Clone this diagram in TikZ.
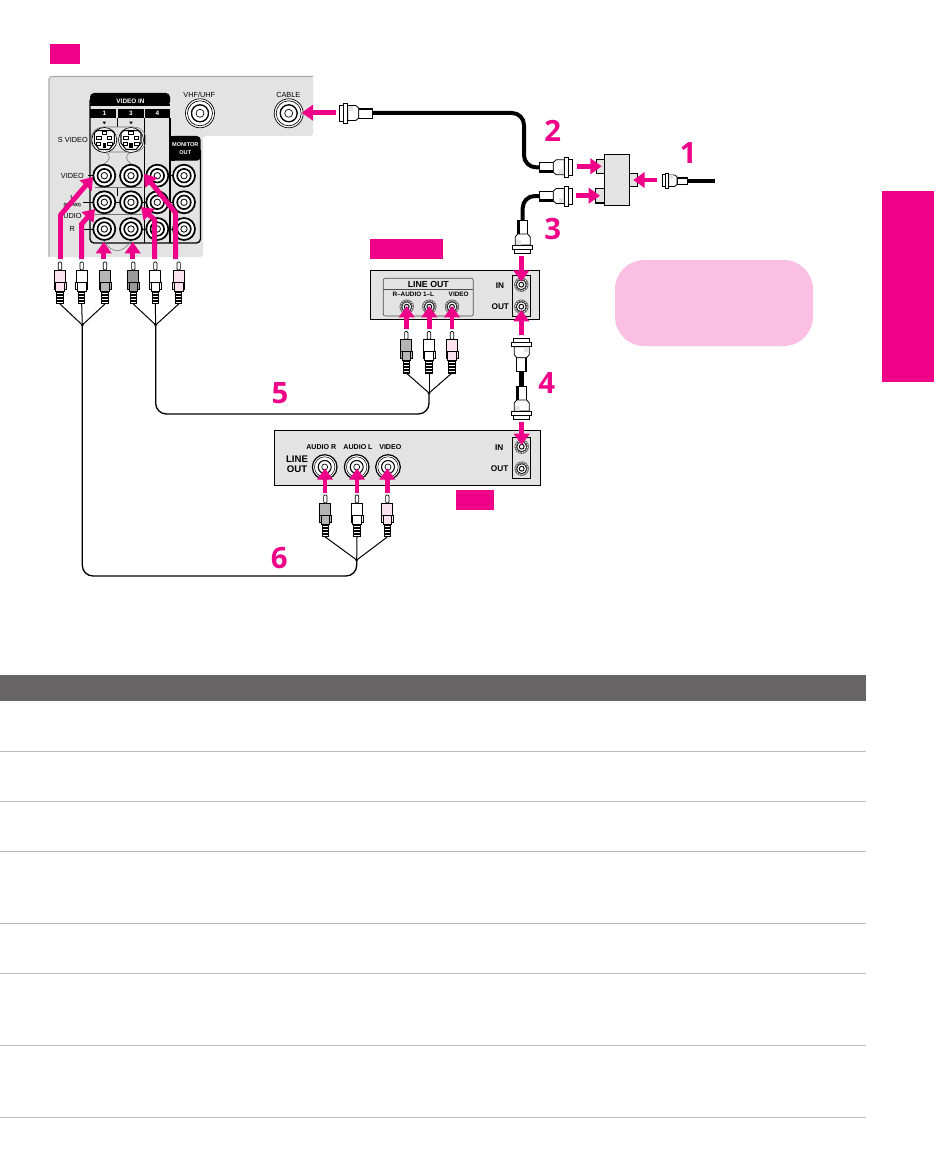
\documentclass[tikz,border=0pt]{standalone}
\usepackage{fontspec}
\setmainfont{Liberation Sans}
\newfontfamily\numfont{Open Sans}
\usetikzlibrary{arrows.meta,shapes.geometric}
\definecolor{mg}{HTML}{EE0088}
\definecolor{soft}{HTML}{FABFE2}
\definecolor{panel}{HTML}{E3E3E3}
\definecolor{band}{HTML}{666465}
\definecolor{rule}{HTML}{BBBBBB}
\definecolor{edge}{HTML}{AAAAAA}
\definecolor{plugpink}{HTML}{FCE1EE}
\definecolor{pluggrey}{HTML}{B5B5B5}
\definecolor{plugdark}{HTML}{999999}
\tikzset{
 x=0.75pt,y=-0.75pt,
 flag/.style={fill=mg,draw=none},
 rulerow/.style={draw=rule,line width=0.6pt},
 boxline/.style={draw=black,line width=0.8pt,fill=panel},
 fatarrow/.style={draw=mg,line width=3.7pt,-{Triangle[length=8.5pt,width=11.5pt]}},
 digit/.style={text=mg,font=\numfont\fontsize{22}{24}\selectfont\bfseries,inner sep=0pt},
 lab/.style={font=\fontsize{4.8}{5.8}\selectfont\bfseries,inner sep=0pt,align=center},
 labw/.style={lab,text=white},
 labm/.style={font=\fontsize{5.5}{6.5}\selectfont,inner sep=0pt,align=center},
 labb/.style={font=\fontsize{5.3}{6.5}\selectfont\bfseries,inner sep=0pt,align=center},
 thick wire/.style={draw=black,line width=3pt,rounded corners=9pt},
 thin wire/.style={draw=black,line width=1pt,rounded corners=8pt},
 fork/.style={draw=black,line width=0.75pt},
 thinring/.style={draw=black!55,line width=0.4pt},
 pics/rcaplug/.style={code={
   \draw[line width=0.5pt,fill=white,rounded corners=0.8pt] (-1.7,0) -- (-1.7,8) -- (1.7,8) -- (1.7,0) -- cycle;
   \draw[line width=0.6pt,fill=#1] (-5.5,8) rectangle (5.5,20);
   \draw[line width=0.6pt,fill=#1] (-6,20) -- (-4.3,20) -- (-4.3,27) -- (-6,27) -- cycle;
   \draw[line width=0.6pt,fill=#1] (6,20) -- (4.3,20) -- (4.3,27) -- (6,27) -- cycle;
   \draw[line width=0.6pt,fill=#1] (-4.3,20) rectangle (4.3,29);
   \fill[black] (-3.6,29) rectangle (3.6,42);
   \foreach \q in {30.5,33.5,36.5,39.5} \fill[white] (-2.6,\q) rectangle (2.6,\q+1.3);
 }},
 pics/coaxplug/.style={code={
   \draw[line width=0.6pt,fill=white] (0,-5) rectangle (14,5);
   \fill[black] (0,2.8) rectangle (14,5);
   \draw[line width=0.6pt,fill=white] (14,-5) -- (17,-7.5) -- (25,-7.5) -- (25,7.5) -- (17,7.5) -- (14,5) -- cycle;
   \fill[panel] (20,2) rectangle (24.6,7.1);
   \draw[line width=0.7pt,fill=white] (25,-10) rectangle (29,10);
   \draw[line width=0.7pt,fill=white] (29,-8) rectangle (33,8);
 }},
 pics/rcajack/.style={code={
   \draw[line width=1.3pt,fill=white] (0,0) circle (11);
   \draw[line width=1.2pt,fill=white] (0,0) circle (6.8);
   \draw[line width=0.6pt,fill=white] (0,0) circle (3.2);
 }},
 pics/widejack/.style={code={
   \draw[line width=0.9pt,fill=white] (0,0) circle (12.3);
   \draw[line width=0.4pt] (0,0) circle (10.2);
   \draw[line width=0.8pt,fill=white] (0,0) circle (6.5);
   \draw[line width=0.5pt] (0,0) circle (3);
 }},
 pics/bigjack/.style={code={
   \draw[line width=0.5pt,fill=white] (0,0) circle (14.5);
   \draw[line width=0.5pt] (0,0) circle (12.5);
   \draw[line width=1pt,fill=white] (0,0) circle (8.5);
   \draw[line width=0.5pt] (0,0) circle (4);
 }},
 pics/hexjack/.style={code={
   \fill[black!60] (0,0) circle (7.2);
   \draw[white,line width=0.5pt,dash pattern=on 1pt off 1pt] (0,0) circle (6);
   \draw[line width=0.4pt,fill=white] (0,0) circle (4.8);
   \draw[line width=0.7pt,fill=white] (0,0) circle (2.4);
 }},
 pics/svideo/.style={code={
   \draw[line width=0.5pt,fill=white] (0,0) circle (12.5);
   \draw[line width=0.8pt,fill=white] (-10,-7) -- (-7,-9.5) -- (7,-9.5) -- (10,-7) -- (10,3) -- (5,9.5) -- (-5,9.5) -- (-10,3) -- cycle;
   \foreach \a/\b in {-7.5/-4,3/-4,-8/2,3.5/2,-2.2/-8.5}
     \draw[line width=0.6pt,fill=white] (\a,\b) rectangle (\a+4.4,\b+3.2);
   \fill[black] (-1.6,3) rectangle (1.6,8.5);
 }},
}
\begin{document}
\begin{tikzpicture}
\useasboundingbox (0,0) rectangle (934,1152);
% table band and rules
\fill[band] (0,675) rectangle (866,701);
\foreach \ry in {751,801,851,923,973,1045,1117} \draw[rulerow] (0,\ry) -- (866,\ry);
% side tab and note
\fill[mg] (882,191) rectangle (934,382);
\fill[soft,rounded corners=22pt] (615,260) rectangle (813,346);
% flags
\fill[flag] (50,44) rectangle (80,64);
\fill[flag] (370,239) rectangle (443,259);
\fill[flag] (456,490) rectangle (494,510);
% TV panel
\fill[panel,rounded corners=2pt] (49,76.5) -- (313,76.5) -- (313,136) -- (203,136) -- (203,257) -- (49,257) -- cycle;
\draw[edge,line width=0.8pt,rounded corners=2pt] (49,257) -- (49,76.5) -- (313,76.5);
% frames
\draw[black,line width=1pt,rounded corners=3pt] (90,100) -- (90,243) -- (200.5,243) -- (200.5,150);
\draw[black,line width=1pt] (144.5,118) -- (144.5,243);
\draw[black,line width=1pt] (170,118) -- (170,243);
\draw[black,line width=0.7pt] (117,118) -- (117,127);
\draw[black,line width=0.7pt] (117,188) -- (117,196);
\fill[black,rounded corners=3pt] (90,93) rectangle (170,106);
\fill[black] (90,104) rectangle (170,106.5);
\fill[black] (90,109) rectangle (116.3,118);
\fill[black] (117.7,109) rectangle (143.8,118);
\fill[black] (145.2,109) rectangle (170,118);
\fill[black,rounded corners=3pt] (170,136) -- (200.7,136) -- (200.7,160.7) -- (170,160.7) -- cycle;
\fill[black] (170,136) rectangle (175,160.7);
\node[labw] (tvin) at (130.5,101) {VIDEO IN};
\node[labw] (t1) at (104.3,113.5) {1};
\node[labw] (t3) at (131,113.5) {3};
\node[labw] (t4) at (157.3,113.5) {4};
\node[labw,font=\fontsize{4.2}{5.8}\selectfont\bfseries] (tmon) at (185.3,148.5) {MONITOR\\OUT};
\fill[black] (102.6,121.6) -- (106,121.6) -- (104.3,124.4) -- cycle;
\fill[black] (129.3,121.6) -- (132.7,121.6) -- (131,124.4) -- cycle;
% group rings
\draw[thinring,rounded corners=9pt] (91,127) rectangle (146,152);
\draw[thinring] (105,152) .. controls (112,156) and (110,160) .. (104,164);
\draw[thinring] (131,152) .. controls (124,156) and (126,160) .. (131,164);
\draw[thinring] (95,187) -- (142,187);
\draw[thinring] (95,214) -- (142,214);
\draw[thinring] (104,241) .. controls (112,254) and (122,254) .. (131,241);
% tick lines
\foreach \ya/\xa/\xb in {175.7/88/93,202.3/83/93,229/83/93,175.7/168/173,202.3/142/146,202.3/168/173,229/142/146,229/168/173,202.3/115/120}
  \draw[black,line width=0.7pt] (\xa,\ya) -- (\xb,\ya);
% TV jacks
\pic at (104.3,140) {svideo};
\pic at (131,140) {svideo};
\foreach \jx in {104.3,131,157.3,184} \foreach \jy in {175.7,202.3,229} \pic at (\jx,\jy) {rcajack};
\pic at (200,113.3) {bigjack};
\pic at (288.7,113.3) {bigjack};
\node[labm] (tvhf) at (199.3,94.7) {VHF/UHF};
\node[labm] (tcable) at (288.3,94.7) {CABLE};
\node[labm,anchor=east] (tsv) at (88,140) {S VIDEO};
\node[labm] (tvid) at (72.3,175.7) {VIDEO};
\node[font=\fontsize{3.4}{4}\selectfont\bfseries,inner sep=0pt] (tl) at (72,197) {L};
\node[font=\fontsize{3.4}{4}\selectfont\bfseries,inner sep=0pt] (tmono) at (72.3,205) {(MONO)};
\node[labm] (taudio) at (70,215.7) {AUDIO};
\node[labm] (tr) at (72.3,229) {R};
% plugs TV
\foreach \pn/\px/\pc in {a1/60/plugpink,a2/81.7/white,a3/105/pluggrey,b1/133.3/plugdark,b2/155.3/white,b3/178.7/plugpink}
  {\pic at (\px,262) {rcaplug=\pc};\coordinate (\pn) at (\px,304);}
\coordinate (ja) at (82.3,325);
\coordinate (jb) at (155.7,325);
\foreach \q in {a1,a2,a3} \draw[fork] (\q) -- (ja);
\foreach \q in {b1,b2,b3} \draw[fork] (\q) -- (jb);
% VCR panel
\draw[boxline] (370.3,270.3) rectangle (539.7,319.7);
\draw[draw=black!70,line width=0.5pt,rounded corners=1.5pt] (383.3,278.3) rectangle (473.3,316);
\draw[draw=black!70,line width=0.5pt] (383.3,289.3) -- (473.3,289.3);
\node[font=\fontsize{6.6}{7.6}\selectfont\bfseries,inner sep=0pt] (tlineout) at (428.3,284) {LINE OUT};
\node[lab] (traudio) at (413.3,294) {R–AUDIO 1–L};
\node[lab] (tvvid) at (458.7,294) {VIDEO};
\foreach \jx in {406.7,429.3,452} \pic at (\jx,306.7) {hexjack};
\draw[draw=black,line width=0.8pt,fill=panel] (512.3,275.3) rectangle (530.7,316.7);
\pic at (521.3,284.7) {hexjack};
\pic at (521.3,306.7) {hexjack};
\node[labb,font=\fontsize{6.2}{7}\selectfont\bfseries] (tin1) at (500,285.3) {IN};
\node[labb,font=\fontsize{6.2}{7}\selectfont\bfseries] (tout1) at (500.3,306.7) {OUT};
\foreach \pn/\px/\pc in {c1/406.3/pluggrey,c2/429/white,c3/452/plugpink}
  {\pic at (\px,331.5) {rcaplug=\pc};\coordinate (\pn) at (\px,373);}
\coordinate (jc) at (429,393);
\foreach \q in {c1,c2,c3} \draw[fork] (\q) -- (jc);
% lower panel
\draw[boxline] (274.3,430.3) rectangle (540.7,485.7);
\node[labb] (tar) at (321.3,447) {AUDIO R};
\node[labb] (tal) at (358,447) {AUDIO L};
\node[labb] (tlv) at (390.3,447) {VIDEO};
\node[font=\fontsize{7.2}{7.6}\selectfont\bfseries,inner sep=0pt,align=center] (tlo) at (297,464) {LINE\\OUT};
\foreach \jx in {324.7,356.7,388} \pic at (\jx,467) {widejack};
\draw[draw=black,line width=0.8pt,fill=panel] (512.3,437.3) rectangle (530.7,478.7);
\pic at (521.7,446.7) {hexjack};
\pic at (521.7,468.7) {hexjack};
\node[labb,font=\fontsize{6.2}{7}\selectfont\bfseries] (tin2) at (499.3,447.7) {IN};
\node[labb,font=\fontsize{6.2}{7}\selectfont\bfseries] (tout2) at (499.7,468.7) {OUT};
\foreach \pn/\px/\pc in {d1/325.3/pluggrey,d2/357/white,d3/387.3/plugpink}
  {\pic at (\px,495) {rcaplug=\pc};\coordinate (\pn) at (\px,537);}
\coordinate (jd) at (356.7,560);
\foreach \q in {d1,d2,d3} \draw[fork] (\q) -- (jd);
% long audio/video cables
\coordinate (b5l) at (155.7,414); \coordinate (b5r) at (429,414);
\coordinate (b6l) at (82.3,576); \coordinate (b6r) at (356.7,576);
\draw[thin wire] (jb) -- (b5l) -- (b5r) -- (jc);
\draw[thin wire] (ja) -- (b6l) -- (b6r) -- (jd);
\fill (ja) circle (1.5); \fill (jb) circle (1.5); \fill (jc) circle (1.5); \fill (jd) circle (1.5);
% coax cables
\coordinate (ca) at (372.7,113); \coordinate (cb) at (539.3,167.3);
\coordinate (cc1) at (524,113); \coordinate (cc2) at (524,167.3);
\draw[thick wire] (ca) -- (cc1) -- (cc2) -- (cb);
\coordinate (cd) at (539.3,196); \coordinate (ce) at (522.7,220); \coordinate (ce1) at (522.7,196);
\draw[thick wire] (cd) -- (ce1) -- (ce);
\coordinate (cf) at (687.7,180.7); \coordinate (cfe) at (715,180.7);
\draw[draw=black,line width=3.2pt] (cf) -- (cfe);
\coordinate (cg) at (521.7,371.7); \coordinate (ch) at (521.7,386);
\draw[draw=black,line width=3.7pt] (cg) -- (ch);
\pic[rotate=180] at (ca) {coaxplug};
\pic at (cb) {coaxplug};
\pic at (cd) {coaxplug};
\pic[rotate=180,scale=0.76] at (cf) {coaxplug};
\pic[rotate=-90] at (ce) {coaxplug};
\pic[rotate=90] at (cg) {coaxplug};
\pic[rotate=-90] at (ch) {coaxplug};
% splitter
\draw[boxline] (596.3,159.3) rectangle (605,173.3);
\draw[boxline] (595.7,188.3) rectangle (605,203);
\draw[boxline] (629,173.3) rectangle (637.7,186.7);
\draw[boxline] (604.3,154.3) rectangle (629.7,205.7);
% digits
\node[digit] (n1) at (688.3,153.3) {1};
\node[digit] (n2) at (552.7,130.7) {2};
\node[digit] (n3) at (552.7,229.3) {3};
\node[digit] (n4) at (546.7,382.7) {4};
\node[digit] (n5) at (280,393) {5};
\node[digit] (n6) at (279.3,558) {6};
% pink arrows
\coordinate (u1) at (60.5,259); \coordinate (u1b) at (60.5,215); \coordinate (v1) at (93,177);
\coordinate (u2) at (81.7,259); \coordinate (u2b) at (81.7,224); \coordinate (v2) at (95,209);
\coordinate (u3) at (103.7,259); \coordinate (v3) at (103.7,242);
\coordinate (u4) at (132.7,259); \coordinate (v4) at (132.7,242);
\coordinate (u5) at (154.7,259); \coordinate (u5b) at (154.7,220); \coordinate (v5) at (141,207);
\coordinate (u6) at (175.7,259); \coordinate (u6b) at (175.7,213); \coordinate (v6) at (144,174);
\draw[fatarrow] (u1) -- (u1b) -- (v1);
\draw[fatarrow] (u2) -- (u2b) -- (v2);
\draw[fatarrow] (u3) -- (v3);
\draw[fatarrow] (u4) -- (v4);
\draw[fatarrow] (u5) -- (u5b) -- (v5);
\draw[fatarrow] (u6) -- (u6b) -- (v6);
\foreach \fa/\fb/\xa/\ya/\xb/\yb in {
  s1/e1/336/112.7/301.7/112.7,
  s2/e2/576.7/166.3/601.7/166.3,
  s3/e3/575.7/195.7/600/195.7,
  s4/e4/657.3/180/633.3/180,
  s5/e5/521.3/256/521.3/281.7,
  s6/e6/521.3/335/521.3/310,
  s7/e7/406.7/329/406.7/306,
  s8/e8/429.3/329/429.3/306,
  s9/e9/452/329/452/306,
  s10/e10/521.7/422/521.7/445,
  s11/e11/325/493.3/325/468.3,
  s12/e12/357/493.3/357/468.3,
  s13/e13/387.3/493.3/387.3/468.3}
{\coordinate (\fa) at (\xa,\ya); \coordinate (\fb) at (\xb,\yb); \draw[fatarrow] (\fa) -- (\fb);}
\end{tikzpicture}
\end{document}
